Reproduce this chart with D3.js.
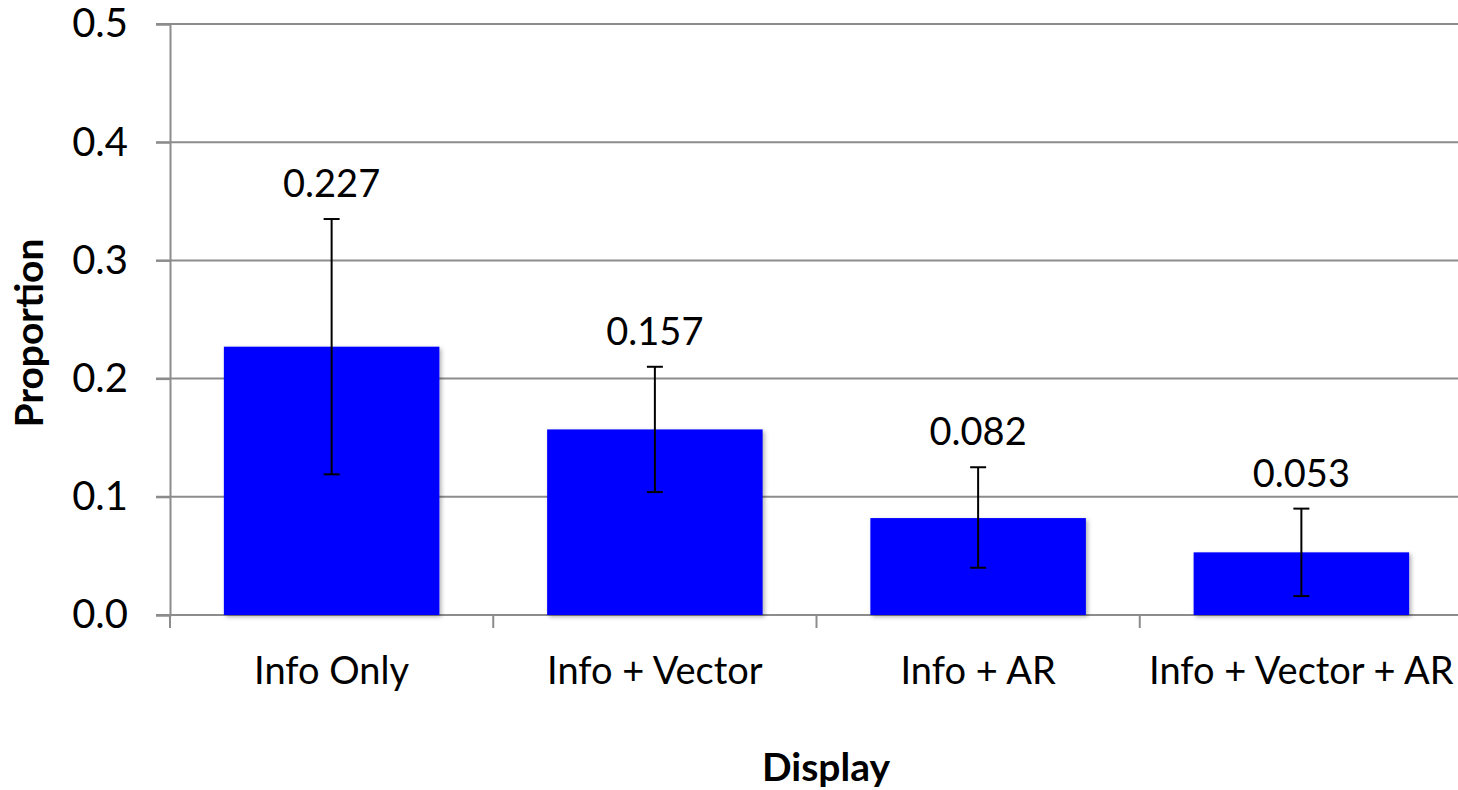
<!DOCTYPE html>
<html>
<head>
<meta charset="utf-8">
<script src="https://cdn.jsdelivr.net/npm/d3@7"></script>
<style>
  body { margin: 0; background: #fff; overflow: hidden; }
  text { font-family: Lato, "Open Sans", sans-serif; fill: #000; }
</style>
</head>
<body>
<div class="container"></div>
<script>
const categories = ['Info Only', 'Info + Vector', 'Info + AR', 'Info + Vector + AR'];
const proportions = [0.227, 0.157, 0.082, 0.053];
const errLow = [0.119, 0.104, 0.040, 0.016];
const errHigh = [0.335, 0.210, 0.125, 0.090];
const yTicks = [0, 0.1, 0.2, 0.3, 0.4, 0.5];

const width = 1458,
    height = 790,
    margin = {top: 24, right: -5, bottom: 175, left: 170};

const svg = d3.select('.container')
    .append('svg')
    .attr('width', width)
    .attr('height', height)
    .style('display', 'block');

const defs = svg.append('defs');
const shadow = defs.append('filter')
    .attr('id', 'shadow')
    .attr('x', '-5%').attr('y', '-5%')
    .attr('width', '115%').attr('height', '115%');
shadow.append('feDropShadow')
    .attr('dx', 2).attr('dy', 2)
    .attr('stdDeviation', 2)
    .attr('flood-color', '#000')
    .attr('flood-opacity', 0.3);

const x = d3.scaleBand()
    .domain(categories)
    .range([margin.left, width - margin.right])
    .paddingInner(1 / 3)
    .paddingOuter(1 / 6);

const y = d3.scaleLinear()
    .domain([0, 0.5])
    .range([height - margin.bottom, margin.top]);

// gridlines
svg.append('g')
    .selectAll('line')
    .data(yTicks)
    .enter()
    .append('line')
    .attr('x1', margin.left - 14)
    .attr('x2', width - margin.right)
    .attr('y1', d => y(d))
    .attr('y2', d => y(d))
    .attr('stroke', '#8c8c8c')
    .attr('stroke-width', 2);

// y axis
const yAxis = svg.append('g')
    .attr('transform', `translate(${margin.left},0)`)
    .call(d3.axisLeft(y).tickValues(yTicks).tickFormat(d3.format('.1f')).tickSize(14).tickPadding(28));
yAxis.select('.domain').attr('stroke', '#8c8c8c').attr('stroke-width', 2);
yAxis.selectAll('.tick line').attr('stroke', '#8c8c8c').attr('stroke-width', 2);
yAxis.selectAll('.tick text').style('font-size', '40px').style('font-family', 'Lato, sans-serif');

// x axis
const step = x.step();
const xTickPos = d3.range(categories.length + 1).map(i => margin.left + i * step);
svg.append('g')
    .selectAll('line')
    .data(xTickPos)
    .enter()
    .append('line')
    .attr('x1', d => d)
    .attr('x2', d => d)
    .attr('y1', y(0))
    .attr('y2', y(0) + 13)
    .attr('stroke', '#8c8c8c')
    .attr('stroke-width', 2);

svg.append('g')
    .selectAll('text')
    .data(categories)
    .enter()
    .append('text')
    .attr('x', d => x(d) + x.bandwidth() / 2)
    .attr('y', 684)
    .attr('text-anchor', 'middle')
    .style('font-size', '38px')
    .text(d => d);

// bars
svg.append('g')
    .selectAll('rect')
    .data(categories)
    .enter()
    .append('rect')
    .attr('x', d => x(d))
    .attr('y', (d, i) => y(proportions[i]))
    .attr('width', x.bandwidth())
    .attr('height', (d, i) => y(0) - y(proportions[i]))
    .attr('fill', '#0000ff')
    .attr('filter', 'url(#shadow)');

// error bars
const err = svg.append('g')
    .selectAll('g')
    .data(categories)
    .enter()
    .append('g')
    .attr('stroke', '#000')
    .attr('stroke-width', 2);

err.append('line')
    .attr('x1', d => x(d) + x.bandwidth() / 2)
    .attr('x2', d => x(d) + x.bandwidth() / 2)
    .attr('y1', (d, i) => y(errLow[i]))
    .attr('y2', (d, i) => y(errHigh[i]));
[errLow, errHigh].forEach(arr => {
    err.append('line')
        .attr('x1', d => x(d) + x.bandwidth() / 2 - 8)
        .attr('x2', d => x(d) + x.bandwidth() / 2 + 8)
        .attr('y1', (d, i) => y(arr[i]))
        .attr('y2', (d, i) => y(arr[i]));
});

// value labels
svg.append('g')
    .selectAll('text')
    .data(categories)
    .enter()
    .append('text')
    .attr('x', d => x(d) + x.bandwidth() / 2)
    .attr('y', (d, i) => y(errHigh[i]) - 22)
    .attr('text-anchor', 'middle')
    .style('font-size', '38px')
    .text((d, i) => d3.format('.3f')(proportions[i]));

// axis titles
svg.append('text')
    .attr('transform', 'translate(43, 333) rotate(-90)')
    .attr('text-anchor', 'middle')
    .style('font-size', '39px')
    .style('font-weight', 'bold')
    .text('Proportion');

svg.append('text')
    .attr('x', 826)
    .attr('y', 781)
    .attr('text-anchor', 'middle')
    .style('font-size', '39px')
    .style('font-weight', 'bold')
    .text('Display');
</script>
</body>
</html>
